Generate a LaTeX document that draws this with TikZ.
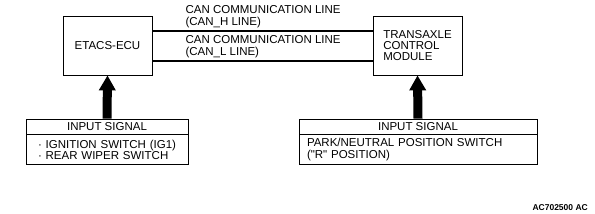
\documentclass[tikz,border=0pt]{standalone}
\usepackage{fontspec}
\setmainfont{Liberation Sans}
\usetikzlibrary{arrows.meta,positioning}
\tikzset{
  every node/.style={font=\fontsize{11.5}{12}\selectfont, inner sep=0pt},
  unit/.style={draw, line width=0.8pt, minimum width=89pt, minimum height=59pt, align=left},
  sighead/.style={draw, line width=0.8pt, minimum height=15pt},
  sigbody/.style={draw, line width=0.8pt, minimum height=30pt, align=left},
  canline/.style={line width=1.8pt},
  canlbl/.style={align=left, anchor=south west},
  feed/.style={line width=9pt, -{Triangle[width=16pt, length=15pt]}},
}

\begin{document}
\begin{tikzpicture}[x=1pt, y=-1pt]
  \useasboundingbox (0,0) rectangle (595,214);

  \node[unit] (ecu) at (107.5,45.5) {ETACS-ECU};
  \node[unit, font=\fontsize{11.5}{10.8}\selectfont] (tcm) at (417.5,45.5) {TRANSAXLE\\CONTROL\\MODULE};

  \draw[canline] ([yshift=14.5pt]ecu.east) -- ([yshift=14.5pt]tcm.west);
  \draw[canline] ([yshift=-15.5pt]ecu.east) -- ([yshift=-15.5pt]tcm.west);
  \node[canlbl] (lblH) at ([xshift=33pt, yshift=17.5pt]ecu.east) {CAN COMMUNICATION LINE\\(CAN\_H LINE)};
  \node[canlbl] (lblL) at ([xshift=33pt, yshift=-12.5pt]ecu.east) {CAN COMMUNICATION LINE\\(CAN\_L LINE)};

  \node[sighead, minimum width=162pt] (in1h) at (107,126.5) {INPUT SIGNAL};
  \node[sigbody, below=0pt of in1h, minimum width=162pt, text width=138pt, inner xsep=12pt,
        font=\fontsize{11.5}{11}\selectfont] (in1b)
    {· IGNITION SWITCH (IG1)\\· REAR WIPER SWITCH};
  \node[sighead, minimum width=238pt] (in2h) at (418,126.5) {INPUT SIGNAL};
  \node[sigbody, below=0pt of in2h, minimum width=238pt, text width=222pt, inner xsep=8pt,
        font=\fontsize{11.5}{12.3}\selectfont] (in2b)
    {PARK/NEUTRAL POSITION SWITCH\\(\textquotedbl R\textquotedbl\ POSITION)};

  \draw[feed] (in1h.north) -- (ecu.south);
  \draw[feed] (in2h.north) -- (tcm.south);

  \node[anchor=south east, font=\bfseries\fontsize{8.5}{10}\selectfont] (figid) at (588,211) {AC702500 AC};
\end{tikzpicture}
\end{document}
